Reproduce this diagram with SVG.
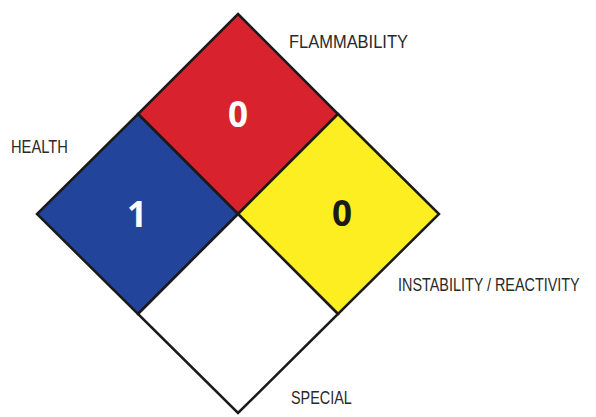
<svg xmlns="http://www.w3.org/2000/svg" width="596" height="417" viewBox="0 0 596 417">
<style>
.q{stroke:#1a1a1a;stroke-width:2.5;stroke-linejoin:miter}
.lbl{font-family:"Liberation Sans",Arial,sans-serif;font-size:18px;fill:#2a2a2a}
.num{font-family:"Open Sans","Liberation Sans",Arial,sans-serif;font-weight:bold;font-size:35px;text-anchor:middle}
</style>
<rect width="596" height="417" fill="#ffffff"/>
<g id="flammability">
<polygon class="q" points="238,14 338,114 238,214 138,114" fill="#d8232f"/>
<text class="num" x="238" y="127" fill="#ffffff">0</text>
</g>
<g id="health">
<polygon class="q" points="138,114 238,214 138,314 37,214" fill="#22449a"/>
<text class="num" x="137" y="227" fill="#ffffff">1</text>
</g>
<g id="instability">
<polygon class="q" points="338,114 439,214 338,314 238,214" fill="#fdee21"/>
<text class="num" x="342" y="226" fill="#1a1a1a">0</text>
</g>
<g id="special">
<polygon class="q" points="238,214 338,314 238,413 138,314" fill="#ffffff"/>
</g>
<g id="labels">
<text class="lbl" transform="translate(11,153) scale(0.817,1)">HEALTH</text>
<text class="lbl" transform="translate(289,48) scale(0.915,1)">FLAMMABILITY</text>
<text class="lbl" transform="translate(398,291) scale(0.8,1)">INSTABILITY / REACTIVITY</text>
<text class="lbl" transform="translate(291,404) scale(0.8,1)">SPECIAL</text>
</g>
<g id="connectors"></g>
</svg>
